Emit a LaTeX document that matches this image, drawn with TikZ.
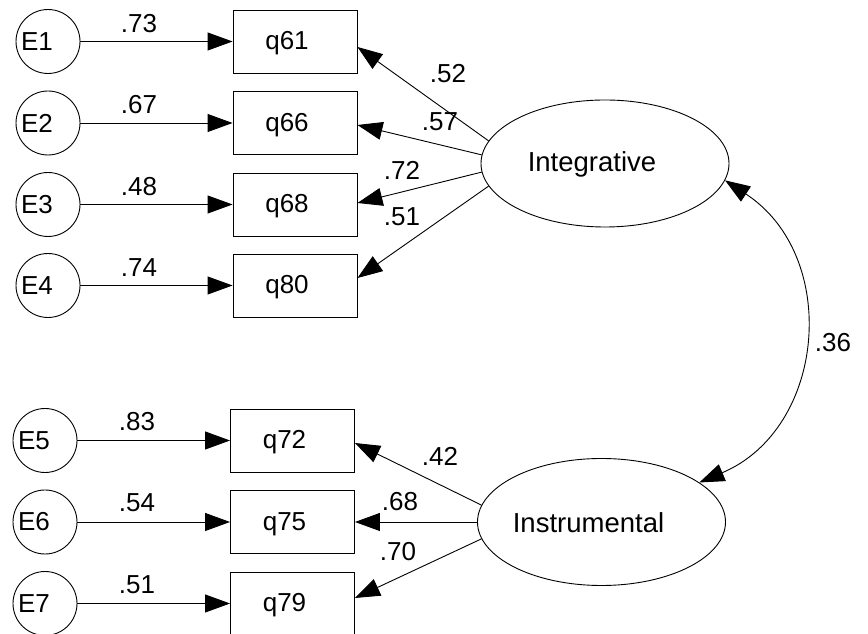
\documentclass[tikz,border=0pt]{standalone}
\usepackage{fontspec}
\setmainfont{Liberation Sans}
\usetikzlibrary{shapes.geometric,arrows.meta}
\begin{document}
\begin{tikzpicture}[x=1pt,y=1pt,
  lbl/.style={font=\fontsize{26}{30}\selectfont,inner sep=0pt},
  biglbl/.style={font=\fontsize{27.5}{32}\selectfont,inner sep=0pt},
  err/.style={circle,draw,line width=0.9pt,minimum size=64pt,inner sep=0pt,
    label={[lbl,xshift=-11pt]center:#1}},
  obs/.style={rectangle,draw,line width=0.9pt,minimum width=124pt,minimum height=63pt,inner sep=0pt,
    label={[lbl,xshift=-8pt,yshift=-2pt]center:#1}},
  lat/.style={ellipse,draw,line width=0.9pt,minimum width=248pt,minimum height=127pt,inner sep=0pt,
    label={[biglbl,xshift=-13pt,yshift=-1pt]center:#1}},
  conn/.style={draw,line width=0.9pt,-{Triangle[length=25pt,width=18pt]}},
  cov/.style={draw,line width=0.9pt,{Triangle[length=25pt,width=18pt]}-{Triangle[length=25pt,width=18pt]}},
  coef/.style={lbl}
]
\useasboundingbox (0,0) rectangle (868,634);
\fill[white] (0,0) rectangle (868,634);

% error terms
\node[err={E1}] (E1) at (48,592.5) {};
\node[err={E2}] (E2) at (48,511) {};
\node[err={E3}] (E3) at (48,429.5) {};
\node[err={E4}] (E4) at (48,348.5) {};
\node[err={E5}] (E5) at (45,193.5) {};
\node[err={E6}] (E6) at (45,112) {};
\node[err={E7}] (E7) at (45,30.5) {};

% observed variables
\node[obs={q61}] (q61) at (295,592.5) {};
\node[obs={q66}] (q66) at (295,511) {};
\node[obs={q68}] (q68) at (295,429.5) {};
\node[obs={q80}] (q80) at (295,348.5) {};
\node[obs={q72}] (q72) at (292.5,193.5) {};
\node[obs={q75}] (q75) at (292.5,112) {};
\node[obs={q79}] (q79) at (292.5,30.5) {};

% latent factors
\node[lat={Integrative}] (F1) at (605,470.5) {};
\node[lat={Instrumental}] (F2) at (601.5,112) {};

% error paths
\draw[conn] (E1) -- (q61);
\draw[conn] (E2) -- (q66);
\draw[conn] (E3) -- (q68);
\draw[conn] (E4) -- (q80);
\draw[conn] (E5) -- (q72);
\draw[conn] (E6) -- (q75);
\draw[conn] (E7) -- (q79);

% loadings
\draw[conn] (F1.169) -- ([yshift=-5.5pt]q61.east);
\draw[conn] (F1.176) -- ([yshift=-2pt]q66.east);
\draw[conn] (F1.184) -- ([yshift=1.5pt]q68.east);
\draw[conn] (F1.191) -- ([yshift=7.5pt]q80.east);
\draw[conn] (F2.172) -- ([yshift=-2.5pt]q72.east);
\draw[conn] (F2.180) -- (q75.east);
\draw[conn] (F2.188) -- ([yshift=5.5pt]q79.east);

% covariance
\draw[cov] (F1.-8) .. controls +(-33.2:138) and +(23:138) .. (F2.22);

% coefficients
\node[coef] (l73) at (139,610.5) {.73};
\node[coef] (l67) at (139,529) {.67};
\node[coef] (l48) at (139,447.5) {.48};
\node[coef] (l74) at (139,366.5) {.74};
\node[coef] (l83) at (137,212.5) {.83};
\node[coef] (l54) at (137,131) {.54};
\node[coef] (l51b) at (137,49.5) {.51};
\node[coef] (l52) at (448,560) {.52};
\node[coef] (l57) at (440,512) {.57};
\node[coef] (l72) at (402,464) {.72};
\node[coef] (l51a) at (402,417) {.51};
\node[coef] (l42) at (440,178) {.42};
\node[coef] (l68) at (400,132) {.68};
\node[coef] (l70) at (398,82) {.70};
\node[coef] (l36) at (833,291) {.36};
\end{tikzpicture}
\end{document}
